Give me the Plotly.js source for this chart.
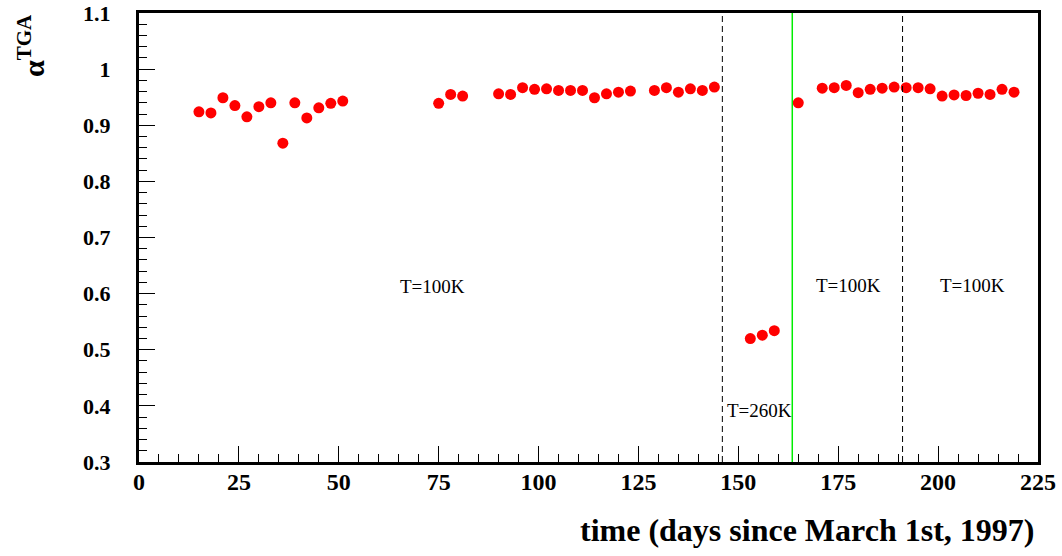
<!DOCTYPE html>
<html>
<head>
<meta charset="utf-8">
<script src="https://cdn.plot.ly/plotly-3.0.1.min.js"></script>
<style>html,body{margin:0;padding:0;background:#fff;}#chart{width:1062px;height:556px;}</style>
</head>
<body>
<div id="chart"></div>
<script>
// Days since March 1st, 1997
const days = [15,18,21,24,27,30,33,36,39,42,45,48,51,
  75,78,81,90,93,96,99,102,105,108,111,114,117,120,123,129,132,135,138,141,144,
  153,156,159,
  165,171,174,177,180,183,186,189,192,195,198,201,204,207,210,213,216,219];
// alpha^TGA values
const alpha = [0.924,0.922,0.949,0.935,0.915,0.933,0.940,0.868,0.940,0.913,0.931,0.939,0.943,
  0.939,0.955,0.952,0.956,0.955,0.967,0.964,0.965,0.962,0.962,0.962,0.949,0.956,0.959,0.961,0.962,0.967,0.959,0.965,0.962,0.968,
  0.520,0.526,0.534,
  0.940,0.966,0.967,0.971,0.958,0.964,0.966,0.968,0.967,0.967,0.965,0.952,0.954,0.953,0.957,0.955,0.964,0.959];
// vertical markers
const dashedLines = [146, 191.1];
const greenLines = [163.5];
// region labels
const labelText = ["T=100K","T=260K","T=100K","T=100K"];
const labelX = [73.4,155.4,177.5,208.5];
const labelY = [0.612,0.392,0.614,0.614];
const xTicks = [0,25,50,75,100,125,150,175,200,225];
const yTicks = [0.3,0.4,0.5,0.6,0.7,0.8,0.9,1,1.1];

const serif = "Liberation Serif, Times New Roman, serif";
const trace = {
  x: days, y: alpha, type: "scatter", mode: "markers",
  marker: {color: "#ff0000", size: 11, line: {width: 0}},
  hoverinfo: "x+y"
};
const shapes = [];
dashedLines.forEach(d => shapes.push({type:"line", xref:"x", yref:"paper", x0:d, x1:d, y0:0, y1:1,
  line:{color:"#000", width:1, dash:"6px,4px"}}));
greenLines.forEach(d => shapes.push({type:"line", xref:"x", yref:"paper", x0:d, x1:d, y0:0, y1:1,
  line:{color:"#00ee00", width:1.5}}));
const annotations = labelText.map((t,i) => ({x:labelX[i], y:labelY[i], xref:"x", yref:"y", text:t,
  showarrow:false, font:{family:serif, size:19, color:"#000"}, xanchor:"center", yanchor:"middle"}));
annotations.push({xref:"paper", yref:"paper", x:1, y:0, xshift:-2, yshift:-68, xanchor:"right", yanchor:"middle",
  text:"<b>time (days since March 1st, 1997)</b>", showarrow:false,
  font:{family:serif, size:32, color:"#000"}});
annotations.push({xref:"paper", yref:"paper", x:0, y:1, xshift:-108, yshift:-33, xanchor:"center", yanchor:"middle",
  text:"<b>α<sup>TGA</sup></b>", textangle:-90, showarrow:false,
  font:{family:serif, size:30, color:"#000"}});

const layout = {
  width: 1062, height: 556,
  margin: {l: 139, r: 24, t: 13, b: 94, pad: 0},
  paper_bgcolor: "#fff", plot_bgcolor: "#fff",
  showlegend: false,
  xaxis: {range: [-0.0001,225.0001], tickvals: xTicks, ticks: "inside", ticklen: 16, tickwidth: 1, tickcolor: "#000",
    minor: {dtick: 5, tick0: 0, ticks: "inside", ticklen: 8, tickwidth: 1, tickcolor: "#000"},
    showgrid: false, zeroline: false, showline: true, linecolor: "#000", linewidth: 3, mirror: true,
    tickfont: {family: serif, size: 24, color: "#000", weight: "bold"}, ticklabelstandoff: -4,
    ticklabeloverflow: "allow"},
  yaxis: {range: [0.29999,1.10001], tickvals: yTicks, ticks: "inside", ticklen: 16, tickwidth: 1, tickcolor: "#000",
    minor: {dtick: 0.02, tick0: 0.3, ticks: "inside", ticklen: 8, tickwidth: 1, tickcolor: "#000"},
    showgrid: false, zeroline: false, showline: true, linecolor: "#000", linewidth: 3, mirror: true,
    tickfont: {family: serif, size: 22, color: "#000", weight: "bold"}, ticklabelstandoff: 21,
    ticklabeloverflow: "allow"},
  shapes: shapes,
  annotations: annotations
};
Plotly.newPlot("chart", [trace], layout, {displayModeBar: false, staticPlot: true});
</script>
</body>
</html>
